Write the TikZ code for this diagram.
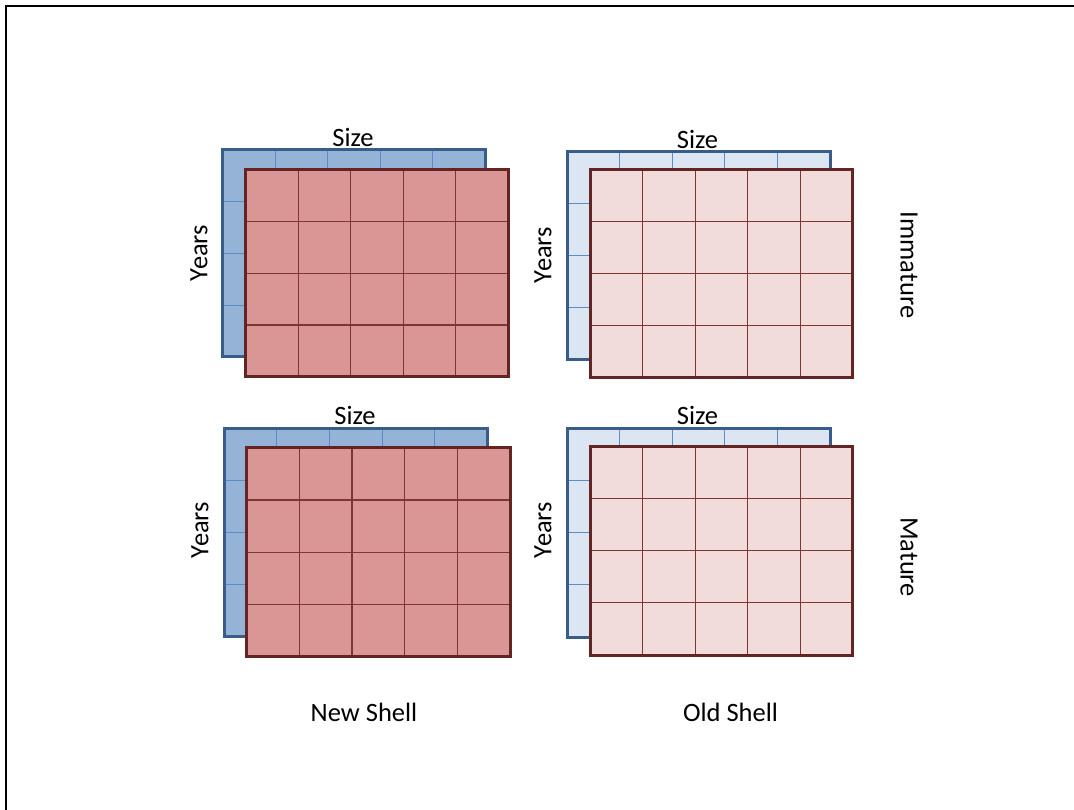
\documentclass[tikz,border=0pt]{standalone}
\usepackage{fontspec}
\setmainfont{Carlito}
\definecolor{bluefill}{HTML}{95B3D7}
\definecolor{bluelight}{HTML}{DCE6F2}
\definecolor{blueedge}{HTML}{385D8A}
\definecolor{bluegrid}{HTML}{5B8BC9}
\definecolor{redfill}{HTML}{D99694}
\definecolor{redlight}{HTML}{F2DCDB}
\definecolor{rededge}{HTML}{632523}
\definecolor{redgrid}{HTML}{7F3534}
\newcommand{\cellgrid}[7]{%
  \fill[#5] (#1,#2) rectangle (#3,#4);
  \foreach \i in {1,2,3,4} {\draw[#6, line width=1.1pt] ({#1+\i*(#3-#1)/5},#2) -- ({#1+\i*(#3-#1)/5},#4);}
  \foreach \j in {1,2,3} {\draw[#6, line width=1.1pt] (#1,{#2+\j*(#4-#2)/4}) -- (#3,{#2+\j*(#4-#2)/4});}
  \draw[#7, line width=3pt] (#1,#2) rectangle (#3,#4);
}
\begin{document}
\begin{tikzpicture}[x=1pt,y=-1pt,
  lbl/.style={inner sep=0pt, font=\fontsize{26.5}{31}\selectfont}]
\useasboundingbox (0,0) rectangle (1074,810);
\fill[white] (0,0) rectangle (1074,810);
\draw[line width=2.6pt] (6,812) -- (6,6) -- (1076,6);
% top-left
\cellgrid{222.7}{149.3}{485}{357}{bluefill}{bluegrid}{blueedge}
\cellgrid{245.7}{170}{508.3}{376.7}{redfill}{redgrid}{rededge}
% top-right
\cellgrid{567.3}{151.7}{830}{359.3}{bluelight}{bluegrid}{blueedge}
\cellgrid{590}{170}{852.7}{377.7}{redlight}{redgrid}{rededge}
% bottom-left
\cellgrid{224.3}{428.3}{487.3}{636}{bluefill}{bluegrid}{blueedge}
\cellgrid{246.7}{447.7}{510}{656.7}{redfill}{redgrid}{rededge}
% bottom-right
\cellgrid{567}{428}{830}{637}{bluelight}{bluegrid}{blueedge}
\cellgrid{590}{446}{852.7}{655}{redlight}{redgrid}{rededge}
% labels
\node[lbl] (sizeTL) at (353,137) {Size};
\node[lbl] (sizeTR) at (697.5,139) {Size};
\node[lbl] (sizeBL) at (355,415) {Size};
\node[lbl] (sizeBR) at (697.5,415) {Size};
\node[lbl, rotate=90] (yearsTL) at (199,253) {Years};
\node[lbl, rotate=90] (yearsTR) at (543,255) {Years};
\node[lbl, rotate=90] (yearsBL) at (200,530) {Years};
\node[lbl, rotate=90] (yearsBR) at (543,530) {Years};
\node[lbl, rotate=-90] (immature) at (909,265) {Immature};
\node[lbl, rotate=-90] (mature) at (909,557) {Mature};
\node[lbl] (newshell) at (364,712) {New Shell};
\node[lbl] (oldshell) at (730.5,712) {Old Shell};
\end{tikzpicture}
\end{document}
